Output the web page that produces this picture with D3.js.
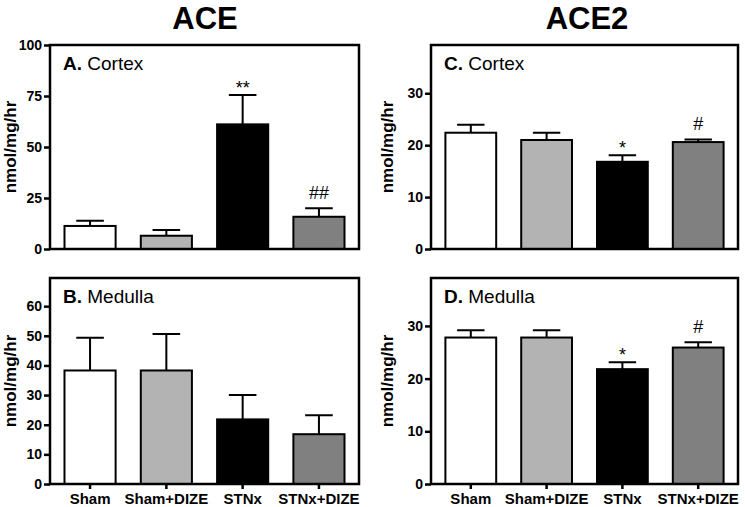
<!doctype html>
<html>
<head>
<meta charset="utf-8">
<title>ACE / ACE2</title>
<style>
  body { margin: 0; background: #fff; }
  svg { display: block; font-family: "Liberation Sans", Arial, sans-serif; }
</style>
</head>
<body>
<div id="here"></div>
<script src="https://d3js.org/d3.v7.min.js"></script>
<script>
// groups along x
var groups = ["Sham", "Sham+DIZE", "STNx", "STNx+DIZE"];

// ACE, cortex (A)
var aceCortex = [11.3, 6.5, 61.1, 15.8];
var aceCortexErr = [2.6, 2.8, 14.4, 4.2];
var aceCortexSig = ["", "", "**", "##"];
var aceCortexTicks = [0, 25, 50, 75, 100];

// ACE, medulla (B)
var aceMedulla = [38.3, 38.3, 21.8, 16.8];
var aceMedullaErr = [11.0, 12.3, 8.2, 6.4];
var aceMedullaSig = ["", "", "", ""];
var aceMedullaTicks = [0, 10, 20, 30, 40, 50, 60];

// ACE2, cortex (C)
var ace2Cortex = [22.4, 21.0, 16.8, 20.6];
var ace2CortexErr = [1.55, 1.4, 1.25, 0.5];
var ace2CortexSig = ["", "", "*", "#"];

// ACE2, medulla (D)
var ace2Medulla = [27.8, 27.8, 21.8, 25.9];
var ace2MedullaErr = [1.4, 1.4, 1.3, 1.0];
var ace2MedullaSig = ["", "", "*", "#"];
var ace2Ticks = [0, 10, 20, 30];

var w = 745, h = 507;

var fill = d3.scaleOrdinal().domain(groups).range(["#ffffff", "#b3b3b3", "#000000", "#808080"]);

var viz = d3.select("#here").append("svg")
  .attr("width", w)
  .attr("height", h)
  .style("background", "#fff");

// column titles
viz.append("text").attr("x", 205).attr("y", 29).attr("text-anchor", "middle")
  .attr("font-size", 31).attr("font-weight", "bold").text("ACE");
viz.append("text").attr("x", 587).attr("y", 29).attr("text-anchor", "middle")
  .attr("font-size", 31).attr("font-weight", "bold").text("ACE2");

var panels = [
  { letter: "A.", name: "Cortex", vals: aceCortex, err: aceCortexErr, sig: aceCortexSig, ticks: aceCortexTicks, max: 100,
    x0: 50, x1: 359, y0: 45, y1: 249, labelX: 16, xlabels: false },
  { letter: "B.", name: "Medulla", vals: aceMedulla, err: aceMedullaErr, sig: aceMedullaSig, ticks: aceMedullaTicks, max: 69.5,
    x0: 50, x1: 359, y0: 278, y1: 484, labelX: 16, xlabels: true },
  { letter: "C.", name: "Cortex", vals: ace2Cortex, err: ace2CortexErr, sig: ace2CortexSig, ticks: ace2Ticks, max: 39.3,
    x0: 431, x1: 738, y0: 45, y1: 249, labelX: 393, xlabels: false },
  { letter: "D.", name: "Medulla", vals: ace2Medulla, err: ace2MedullaErr, sig: ace2MedullaSig, ticks: ace2Ticks, max: 39.1,
    x0: 431, x1: 738, y0: 278, y1: 484, labelX: 393, xlabels: true }
];

panels.forEach(function(p) {
  var x = d3.scaleBand().domain(groups).range([p.x0, p.x1]).paddingInner(0.33).paddingOuter(0.19);
  var y = d3.scaleLinear().domain([0, p.max]).range([p.y1, p.y0]);
  var g = viz.append("g");

  var rows = groups.map(function(k, i) { return { k: k, v: p.vals[i], e: p.err[i], s: p.sig[i] }; });

  // error bars (upper only)
  var cap = x.bandwidth() * 0.27;
  g.selectAll(".eb").data(rows).enter().append("path")
    .attr("d", function(d) {
      var cx = x(d.k) + x.bandwidth() / 2;
      return "M" + cx + "," + y(d.v) + "V" + y(d.v + d.e) + "M" + (cx - cap) + "," + y(d.v + d.e) + "H" + (cx + cap);
    })
    .attr("stroke", "#000").attr("stroke-width", 2).attr("fill", "none");

  g.selectAll("rect.bar").data(rows).enter().append("rect")
    .attr("x", function(d) { return x(d.k); })
    .attr("y", function(d) { return y(d.v); })
    .attr("width", x.bandwidth())
    .attr("height", function(d) { return y(0) - y(d.v); })
    .attr("fill", function(d) { return fill(d.k); })
    .attr("stroke", "#000").attr("stroke-width", 2);

  // significance marks
  g.selectAll(".sig").data(rows.filter(function(d) { return d.s; })).enter().append("text")
    .attr("x", function(d) { return x(d.k) + x.bandwidth() / 2; })
    .attr("y", function(d) { return y(d.v + d.e) - (d.s.charAt(0) == "#" ? 9 : 1); })
    .attr("text-anchor", "middle")
    .attr("font-size", 18)
    .text(function(d) { return d.s; });

  // frame
  g.append("rect")
    .attr("x", p.x0).attr("y", p.y0)
    .attr("width", p.x1 - p.x0).attr("height", p.y1 - p.y0)
    .attr("fill", "none").attr("stroke", "#000").attr("stroke-width", 2.5);

  // y axis
  var ya = g.append("g").attr("transform", "translate(" + p.x0 + ",0)")
    .call(d3.axisLeft(y).tickValues(p.ticks).tickSize(6).tickPadding(2).tickFormat(d3.format("d")));
  ya.select(".domain").remove();
  ya.selectAll("line").attr("stroke", "#000").attr("stroke-width", 2.5);
  ya.selectAll("text").attr("font-size", 14).attr("font-weight", "bold").attr("fill", "#000")
    .attr("font-family", "Liberation Sans, Arial, sans-serif");

  // x axis on the bottom row
  if (p.xlabels) {
    var xa = g.append("g").attr("transform", "translate(0," + p.y1 + ")")
      .call(d3.axisBottom(x).tickSize(5).tickPadding(4));
    xa.select(".domain").remove();
    xa.selectAll("line").attr("stroke", "#000").attr("stroke-width", 2.5);
    xa.selectAll("text").attr("font-size", 15).attr("font-weight", "bold").attr("fill", "#000")
      .attr("font-family", "Liberation Sans, Arial, sans-serif");
  }

  // panel label
  var t = g.append("text").attr("x", p.x0 + 13).attr("y", p.y0 + 25).attr("font-size", 19);
  t.append("tspan").attr("font-weight", "bold").text(p.letter);
  t.append("tspan").text(" " + p.name);

  // y title
  g.append("text")
    .attr("transform", "translate(" + p.labelX + "," + ((p.y0 + p.y1) / 2) + ") rotate(-90)")
    .attr("text-anchor", "middle")
    .attr("font-size", 17).attr("font-weight", "bold")
    .text("nmol/mg/hr");
});
</script>
</body>
</html>
